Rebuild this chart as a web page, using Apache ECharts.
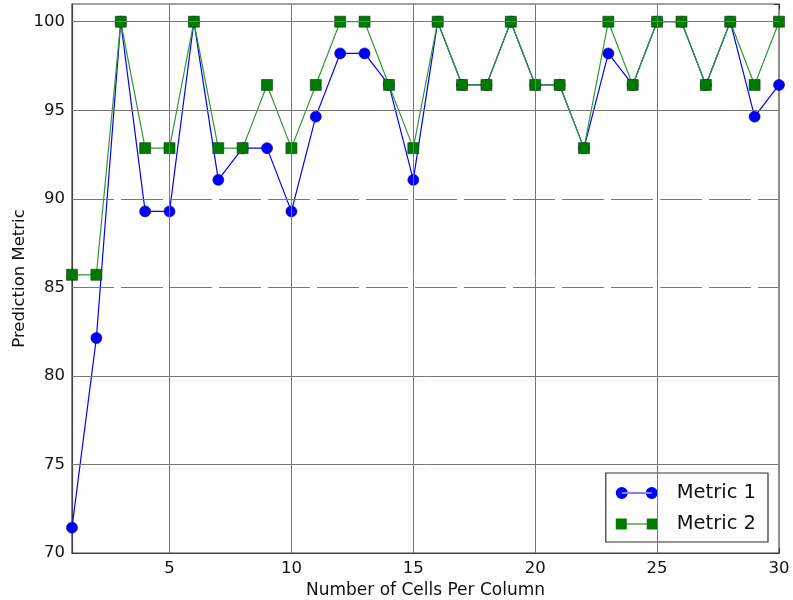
<!DOCTYPE html>
<html>
<head>
<meta charset="utf-8">
<script src="https://cdn.jsdelivr.net/npm/echarts@6/dist/echarts.min.js"></script>
<style>
  html, body { margin: 0; padding: 0; background: #fff; }
  #chart { width: 793px; height: 600px; }
</style>
</head>
<body>
<div id="chart"></div>
<script>
// Number of cells per column (x values)
var cellsPerColumn = [1,2,3,4,5,6,7,8,9,10,11,12,13,14,15,16,17,18,19,20,21,22,23,24,25,26,27,28,29,30];

var metric1 = [71.43, 82.14, 100, 89.29, 89.29, 100, 91.07, 92.86, 92.86, 89.29,
               94.64, 98.21, 98.21, 96.43, 91.07, 100, 96.43, 96.43, 100, 96.43,
               96.43, 92.86, 98.21, 96.43, 100, 100, 96.43, 100, 94.64, 96.43];

var metric2 = [85.71, 85.71, 100, 92.86, 92.86, 100, 92.86, 92.86, 96.43, 92.86,
               96.43, 100, 100, 96.43, 92.86, 100, 96.43, 96.43, 100, 96.43,
               96.43, 92.86, 100, 96.43, 100, 100, 96.43, 100, 96.43, 100];

var xTicks = [5, 10, 15, 20, 25, 30];
var yTicks = [70, 75, 80, 85, 90, 95, 100];
var yDashed = [85, 90];

var FONT = 'DejaVu Sans';
var GRID_COLOR = '#777';

function pairs(ys) {
  return cellsPerColumn.map(function (x, i) { return [x, ys[i]]; });
}

// grid lines drawn as mark lines so a couple of them can be dashed
var gridLines = [];
xTicks.forEach(function (v) {
  if (v < 30) gridLines.push({ xAxis: v, lineStyle: { color: GRID_COLOR, width: 1, type: 'solid' } });
});
yTicks.forEach(function (v) {
  if (v > 70) {
    var dashed = yDashed.indexOf(v) >= 0;
    gridLines.push({ yAxis: v, lineStyle: { color: GRID_COLOR, width: 1, type: dashed ? [42, 7] : 'solid' } });
  }
});

// legend glyphs: a short line with a marker at each end (42 x 12 box)
var ICON_CIRCLE = 'path://M0,6a6,6 0 1,0 12,0a6,6 0 1,0 -12,0Z' +
                  'M6,5.4L36,5.4L36,6.6L6,6.6Z' +
                  'M30,6a6,6 0 1,0 12,0a6,6 0 1,0 -12,0Z';
var ICON_SQUARE = 'path://M0,0.5L11,0.5L11,11.5L0,11.5Z' +
                  'M11,5.4L31,5.4L31,6.6L11,6.6Z' +
                  'M31,0.5L42,0.5L42,11.5L31,11.5Z';

var chart = echarts.init(document.getElementById('chart'), null, { renderer: 'canvas' });

var tickStyle = { show: true, inside: true, length: 5, lineStyle: { color: '#333', width: 1 } };

chart.setOption({
  animation: false,
  backgroundColor: '#ffffff',
  grid: {
    left: 72, right: 14, top: 4, bottom: 47,
    outerBoundsMode: 'none',
    containLabel: false,
    show: true, borderColor: '#444', borderWidth: 1.2, backgroundColor: '#fff'
  },
  legend: {
    right: 25, bottom: 58,
    orient: 'vertical',
    backgroundColor: '#fff',
    borderColor: '#333', borderWidth: 1.2, borderRadius: 0,
    padding: [10, 12, 8, 10],
    itemGap: 11,
    itemWidth: 42, itemHeight: 14,
    itemStyle: { borderWidth: 0 },
    textStyle: { fontFamily: FONT, fontSize: 19.5, color: '#111', padding: [0, 0, 0, 14] },
    data: [
      { name: 'Metric 1', icon: ICON_CIRCLE },
      { name: 'Metric 2', icon: ICON_SQUARE }
    ]
  },
  xAxis: [{
    type: 'value', min: 1, max: 30, position: 'bottom',
    name: 'Number of Cells Per Column', nameLocation: 'middle', nameGap: 28,
    nameTextStyle: { fontFamily: FONT, fontSize: 17, color: '#111' },
    axisLine: { show: true, lineStyle: { color: '#444', width: 1.2 } },
    axisTick: Object.assign({ customValues: xTicks }, tickStyle),
    axisLabel: { customValues: xTicks, fontFamily: FONT, fontSize: 16.5, color: '#111', margin: 7 },
    splitLine: { show: false }
  }, {
    type: 'value', min: 1, max: 30, position: 'top',
    axisLine: { show: false },
    axisTick: Object.assign({ customValues: xTicks }, tickStyle),
    axisLabel: { show: false },
    splitLine: { show: false }
  }],
  yAxis: [{
    type: 'value', min: 70, max: 101, interval: 5, position: 'left',
    name: 'Prediction Metric', nameLocation: 'middle', nameGap: 44, nameRotate: 90,
    nameMoveOverlap: false,
    nameTextStyle: { fontFamily: FONT, fontSize: 16.5, color: '#111' },
    axisLine: { show: true, lineStyle: { color: '#444', width: 1.2 } },
    axisTick: tickStyle,
    axisLabel: { fontFamily: FONT, fontSize: 16.5, color: '#111', margin: 7, showMaxLabel: false },
    splitLine: { show: false }
  }, {
    type: 'value', min: 70, max: 101, interval: 5, position: 'right',
    axisLine: { show: false },
    axisTick: tickStyle,
    axisLabel: { show: false },
    splitLine: { show: false }
  }],
  series: [{
    name: 'grid',
    type: 'line',
    data: [],
    z: 1,
    silent: true,
    markLine: {
      silent: true, symbol: 'none', animation: false,
      label: { show: false },
      data: gridLines
    }
  }, {
    name: 'Metric 1',
    type: 'line',
    data: pairs(metric1),
    z: 3,
    symbol: 'circle', symbolSize: 11,
    lineStyle: { color: '#0000ff', width: 1.2 },
    itemStyle: { color: '#0000ff', borderColor: '#00008a', borderWidth: 0.6 }
  }, {
    name: 'Metric 2',
    type: 'line',
    data: pairs(metric2),
    z: 4,
    symbol: 'rect', symbolSize: 11,
    lineStyle: { color: '#2e9a2e', width: 1.2 },
    itemStyle: { color: '#007a00', borderColor: '#0a3a0a', borderWidth: 0.6 }
  }]
});
</script>
</body>
</html>
